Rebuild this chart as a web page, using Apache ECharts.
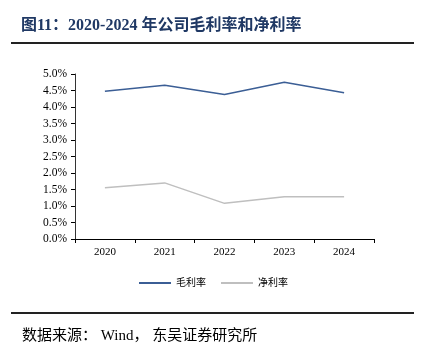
<!DOCTYPE html>
<html><head><meta charset="utf-8">
<script src="https://cdn.jsdelivr.net/npm/echarts@6/dist/echarts.min.js"></script>
<style>html,body{margin:0;padding:0;background:#fff}#c{width:422px;height:361px}</style>
</head><body><div id="c"></div>
<script>
const categories = ['2020','2021','2022','2023','2024'];
const grossMargin = [4.48, 4.66, 4.38, 4.75, 4.43];
const netMargin = [1.55, 1.70, 1.08, 1.28, 1.28];
const seriesNames = ['毛利率','净利率'];
const titleText = '图11：2020-2024 年公司毛利率和净利率';
const sourceText = '数据来源： Wind， 东吴证券研究所';

const serif = '"Liberation Serif","Noto Sans CJK SC",serif';
const chart = echarts.init(document.getElementById('c'));
chart.setOption({
  animation:false,
  backgroundColor:'#fff',
  grid:{left:75,right:48,top:74,bottom:122},
  legend:{
    data:seriesNames, top:273, left:134, itemWidth:32, itemHeight:10, itemGap:15,
    icon:'path://M0,4 L32,4 L32,6 L0,6 Z',
    textStyle:{fontFamily:serif,fontSize:10,color:'#000'}
  },
  xAxis:{
    type:'category', data:categories, boundaryGap:true,
    axisLine:{lineStyle:{color:'#000',width:1}},
    axisTick:{show:true,length:4,inside:false,lineStyle:{color:'#000'}},
    axisLabel:{fontFamily:serif,fontSize:11,color:'#000',margin:8}
  },
  yAxis:{
    type:'value', min:0, max:5, interval:0.5,
    axisLine:{show:true,lineStyle:{color:'#333',width:1}},
    axisTick:{show:true,length:4,lineStyle:{color:'#000'}},
    splitLine:{show:false},
    axisLabel:{fontFamily:serif,fontSize:11.5,color:'#000',margin:8,formatter:v=>v.toFixed(1)+'%'}
  },
  series:[
    {name:seriesNames[0],type:'line',data:grossMargin,symbol:'none',lineStyle:{color:'#3B5E95',width:1.5},itemStyle:{color:'#3B5E95'}},
    {name:seriesNames[1],type:'line',data:netMargin,symbol:'none',lineStyle:{color:'#BFBFBF',width:1.5},itemStyle:{color:'#BFBFBF'}}
  ],
  graphic:[
    {type:'text',left:21,top:18,style:{text:titleText,font:'bold 16px '+serif,fill:'#1F3864'}},
    {type:'rect',shape:{x:11,y:42,width:403,height:2},style:{fill:'#222'}},
    {type:'rect',shape:{x:11,y:312,width:403,height:2},style:{fill:'#222'}},
    {type:'text',left:22,top:329,style:{text:sourceText,font:'15px '+serif,fill:'#000'}}
  ]
});
</script></body></html>
